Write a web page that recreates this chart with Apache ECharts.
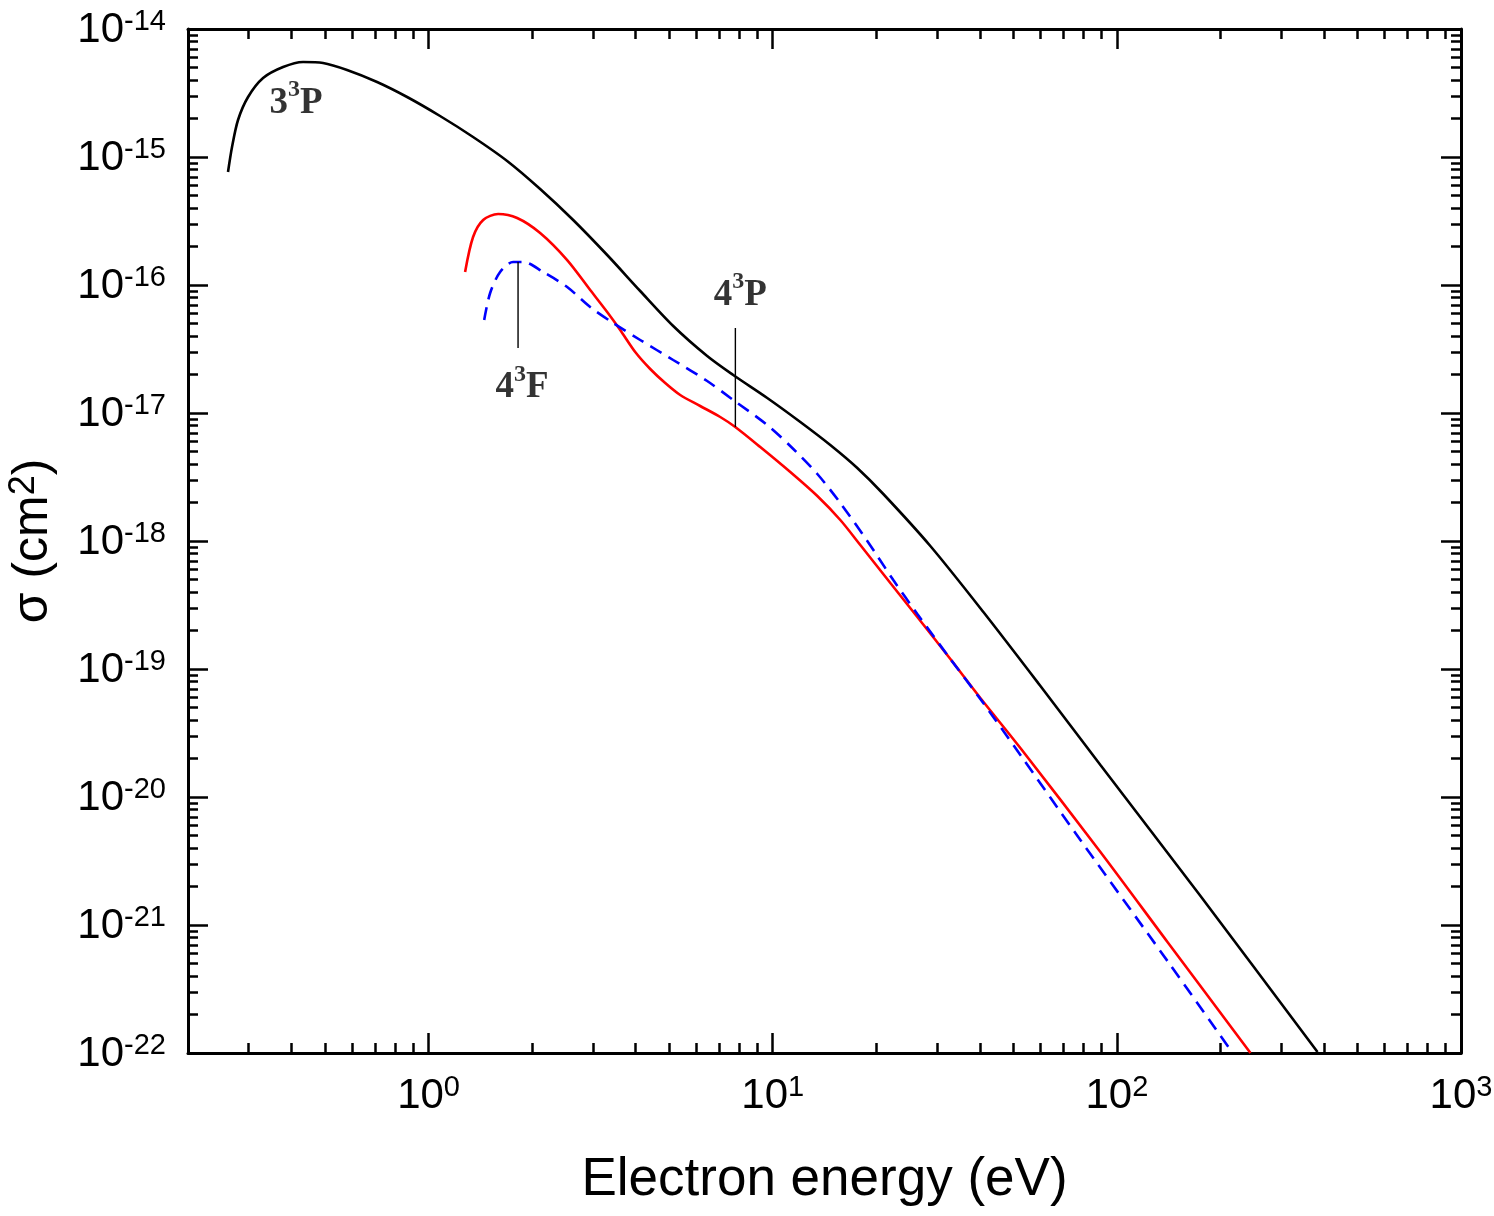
<!DOCTYPE html>
<html>
<head>
<meta charset="utf-8">
<script src="https://cdn.jsdelivr.net/npm/echarts@6/dist/echarts.min.js"></script>
<style>
html,body{margin:0;padding:0;background:#fff;}
#c{width:1494px;height:1216px;}
</style>
</head>
<body>
<div id="c"></div>
<script>
// ---- data (energy in eV, cross section in cm^2) ----
const energy33P = [0.2614, 0.2685, 0.2795, 0.2989, 0.3305, 0.3778, 0.4319, 0.4937, 0.5797, 0.7086, 0.8664, 1.080, 1.347, 1.692, 2.110, 2.632, 3.304, 4.121, 5.139, 6.451, 7.679, 9.642, 12.03, 14.70, 17.61, 20.96, 28.71, 40.94, 59.97, 89.59, 175.0, 382.9];
const sigma33P  = [7.63e-16, 1.197e-15, 1.946e-15, 2.943e-15, 4.141e-15, 5.047e-15, 5.524e-15, 5.425e-15, 4.783e-15, 3.855e-15, 2.943e-15, 2.091e-15, 1.433e-15, 9.306e-16, 5.623e-16, 3.221e-16, 1.715e-16, 8.976e-17, 4.783e-17, 2.788e-17, 1.981e-17, 1.310e-17, 8.504e-18, 5.623e-18, 3.718e-18, 2.329e-18, 9.141e-19, 2.788e-19, 7.365e-20, 1.778e-20, 1.684e-21, 1.018e-22];

const energy43P = [1.277, 1.347, 1.441, 1.593, 1.809, 2.110, 2.528, 2.949, 3.304, 3.605, 3.986, 4.407, 4.872, 5.386, 6.156, 7.040, 7.784, 9.201, 11.25, 13.48, 15.72, 17.97, 21.97, 26.32, 32.83, 40.12, 52.44, 89.59, 140.3, 244.5];
const sigma43P  = [1.263e-16, 2.371e-16, 3.221e-16, 3.586e-16, 3.337e-16, 2.548e-16, 1.567e-16, 9.139e-17, 6.152e-17, 4.451e-17, 2.995e-17, 2.207e-17, 1.715e-17, 1.382e-17, 1.134e-17, 9.306e-18, 7.774e-18, 5.424e-18, 3.459e-18, 2.246e-18, 1.459e-18, 9.306e-19, 4.695e-19, 2.548e-19, 1.197e-19, 5.934e-20, 2.414e-20, 3.718e-21, 7.365e-22, 1.0e-22];

const energy43F = [1.451, 1.510, 1.614, 1.761, 1.883, 2.153, 2.528, 2.949, 3.440, 4.121, 5.139, 6.451, 7.679, 9.642, 11.48, 13.48, 15.72, 18.83, 22.41, 26.32, 32.83, 40.12, 52.44, 78.35, 140.3, 211.0];
const sigma43F  = [5.327e-17, 8.66e-17, 1.263e-16, 1.512e-16, 1.512e-16, 1.263e-16, 9.646e-17, 6.73e-17, 5.047e-17, 3.718e-17, 2.595e-17, 1.778e-17, 1.264e-17, 8.058e-18, 5.234e-18, 3.337e-18, 1.981e-18, 1.0e-18, 4.955e-19, 2.689e-19, 1.197e-19, 5.83e-20, 2.129e-20, 4.613e-21, 5.234e-22, 1.114e-22];

// annotations
const labelParts = [['3', '3', 'P'], ['4', '3', 'F'], ['4', '3', 'P']];
const labelEnergy = [0.412, 1.87, 8.05];
const labelSigma = [2.64e-15, 1.57e-17, 8.35e-17];
const leaderEnergy = [1.82, 7.79];
const leaderTop = [1.51e-16, 4.61e-17];
const leaderBottom = [3.22e-17, 7.78e-18];

// axes
const xRange = [0.2, 1000];
const yRange = [1e-22, 1e-14];
const xTickExponents = [0, 1, 2, 3];
const yTickExponents = [-22, -21, -20, -19, -18, -17, -16, -15, -14];
const minorMultipliers = [2, 3, 4, 5, 6, 7, 8, 9];

// ---- build ----
const L = Math.log10;
const xMin = L(xRange[0]), xMax = L(xRange[1]);
const yMin = L(yRange[0]), yMax = L(yRange[1]);
const toXY = (E, S) => E.map((e, i) => [L(e), L(S[i])]);

function minorTicks(lo, hi) {
  const out = [];
  for (let n = Math.floor(lo) - 1; n <= Math.ceil(hi); n++) {
    minorMultipliers.forEach(k => {
      const v = L(k) + n;
      if (v > lo + 1e-9 && v < hi - 1e-9) out.push(v);
    });
  }
  return out;
}
const xMinor = minorTicks(xMin, xMax);
const yMinor = minorTicks(yMin, yMax);

const SANS = '"Liberation Sans", Arial, Helvetica, sans-serif';
const SERIF = '"Liberation Serif", "Times New Roman", serif';
const tickRich = {
  b: {fontFamily: SANS, fontSize: 42, lineHeight: 44, color: '#000', verticalAlign: 'bottom'},
  s: {fontFamily: SANS, fontSize: 29, lineHeight: 30, color: '#000', verticalAlign: 'top', padding: [0, 0, 20, 0]}
};
const expLabel = v => '{b|10}{s|' + Math.round(v) + '}';

const lineSt = {color: '#000', width: 3};
const tickSt = {color: '#000', width: 2.5};

function makeAxis(kind, position, vals, len, withLine, withLabel, min, max, extra) {
  const a = {
    type: 'value', min: min, max: max, position: position,
    splitLine: {show: false},
    axisLine: {show: withLine, onZero: false, lineStyle: lineSt},
    axisTick: {show: true, inside: true, length: len, lineStyle: tickSt, customValues: vals},
    axisLabel: withLabel ? {show: true, customValues: vals, formatter: expLabel, rich: tickRich, margin: kind === 'x' ? 20 : 22} : {show: false},
    minorTick: {show: false}
  };
  return Object.assign(a, extra || {});
}

const xAxes = [
  makeAxis('x', 'bottom', xTickExponents, 20, true, true, xMin, xMax, {
    name: 'Electron energy (eV)', nameLocation: 'middle', nameGap: 101,
    nameTextStyle: {fontFamily: SANS, fontSize: 53, color: '#000'}
  }),
  makeAxis('x', 'bottom', xMinor, 10, false, false, xMin, xMax),
  makeAxis('x', 'top', xTickExponents, 20, true, false, xMin, xMax),
  makeAxis('x', 'top', xMinor, 10, false, false, xMin, xMax)
];
const yAxes = [
  makeAxis('y', 'left', yTickExponents, 20, true, true, yMin, yMax, {
    name: '{a|σ (cm}{s|2}{a|)}', nameLocation: 'middle', nameGap: 118, nameRotate: 90,
    nameTextStyle: {rich: {
      a: {fontFamily: SANS, fontSize: 50, lineHeight: 52, color: '#000', verticalAlign: 'bottom'},
      s: {fontFamily: SANS, fontSize: 36, lineHeight: 36, color: '#000', verticalAlign: 'top', padding: [0, 0, 24, 0]}
    }}
  }),
  makeAxis('y', 'left', yMinor, 10, false, false, yMin, yMax),
  makeAxis('y', 'right', yTickExponents, 20, true, false, yMin, yMax),
  makeAxis('y', 'right', yMinor, 10, false, false, yMin, yMax)
];

const curve = (name, E, S, color, type) => ({
  name: name, type: 'line', xAxisIndex: 0, yAxisIndex: 0,
  data: toXY(E, S), smooth: 0.3, symbol: 'none', silent: true,
  lineStyle: {color: color, width: 2.6, type: type || 'solid'}, z: 3
});

const leaders = leaderEnergy.map((e, i) => ({
  type: 'line', xAxisIndex: 0, yAxisIndex: 0, symbol: 'none', silent: true,
  data: [[L(e), L(leaderTop[i])], [L(e), L(leaderBottom[i])]],
  lineStyle: {color: '#000', width: 1.4}, z: 4
}));

const labelSeries = {
  type: 'scatter', xAxisIndex: 0, yAxisIndex: 0, symbolSize: 1, silent: true,
  itemStyle: {color: 'rgba(0,0,0,0)'},
  data: labelParts.map((p, i) => [L(labelEnergy[i]), L(labelSigma[i])]),
  label: {
    show: true, position: 'inside', align: 'center', verticalAlign: 'middle',
    color: '#000', textBorderWidth: 0,
    formatter: params => {
      const p = labelParts[params.dataIndex];
      return '{m|' + p[0] + '}{s|' + p[1] + '}{m|' + p[2] + '}';
    },
    rich: {
      m: {fontFamily: SERIF, fontWeight: 'bold', fontSize: 37, lineHeight: 50, color: '#000', textBorderWidth: 0},
      s: {fontFamily: SERIF, fontWeight: 'bold', fontSize: 24, lineHeight: 20, color: '#000', verticalAlign: 'top', textBorderWidth: 0}
    }
  },
  z: 5
};

const chart = echarts.init(document.getElementById('c'));
chart.setOption({
  animation: false,
  backgroundColor: '#fff',
  grid: {left: 188, right: 33, top: 29, bottom: 163, containLabel: false, outerBoundsMode: 'none'},
  xAxis: xAxes,
  yAxis: yAxes,
  series: [
    curve('3³P', energy33P, sigma33P, '#000000'),
    curve('4³P', energy43P, sigma43P, '#ff0000'),
    curve('4³F', energy43F, sigma43F, '#0000ff', [13, 8]),
    ...leaders,
    labelSeries
  ]
});
</script>
</body>
</html>
